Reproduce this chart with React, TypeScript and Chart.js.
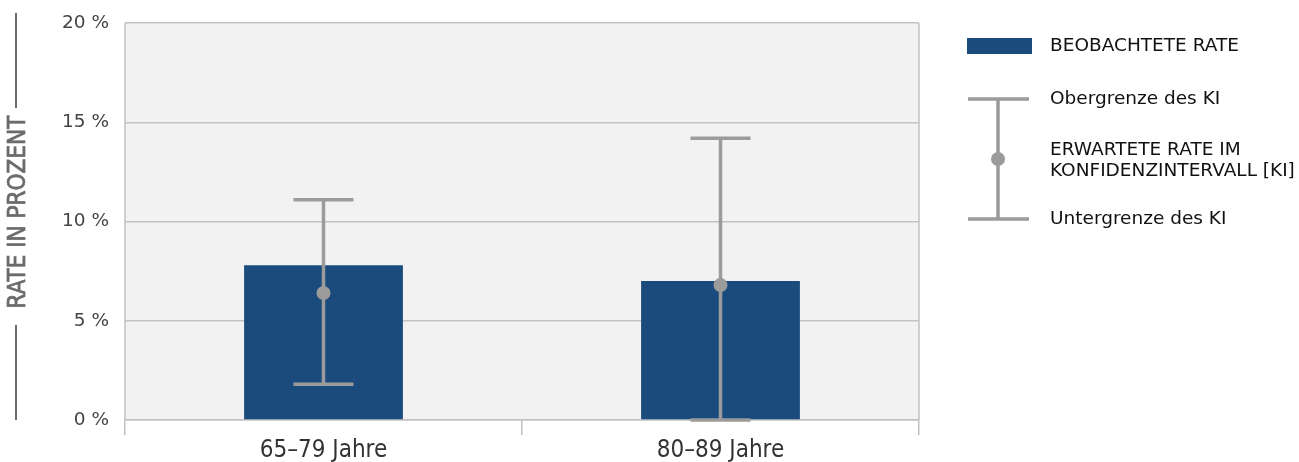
import React, { useEffect, useRef } from "react";
import { Chart, registerables } from "chart.js";

Chart.register(...registerables);

const categories = ["65–79 Jahre", "80–89 Jahre"];
const observedRate = [7.8, 7.0];
const expectedRate = [6.4, 6.8];
const upperCI = [11.1, 14.2];
const lowerCI = [1.8, 0.0];
const yTicks = [0, 5, 10, 15, 20];

const BAR_COLOR = "#1b4b7c";
const ERR_COLOR = "#9b9b9b";
const GRID_COLOR = "#c2c2c2";
const PLOT_BG = "#f2f2f2";
const LABEL_FONT = "'DejaVu Sans', sans-serif";
const COND_FONT = "'Liberation Sans Narrow', 'DejaVu Sans Condensed', sans-serif";

const plotPlugin = {
  id: "plotDecor",
  beforeDraw(chart: any) {
    const { ctx, chartArea } = chart;
    ctx.save();
    ctx.fillStyle = PLOT_BG;
    ctx.fillRect(chartArea.left, chartArea.top, chartArea.right - chartArea.left, chartArea.bottom - chartArea.top);
    ctx.restore();
  },
  afterDatasetsDraw(chart: any) {
    const { ctx, chartArea } = chart;
    const xs = chart.scales.x;
    const ys = chart.scales.y;
    ctx.save();
    ctx.strokeStyle = GRID_COLOR;
    ctx.lineWidth = 1.5;
    ctx.beginPath();
    ctx.moveTo(chartArea.left, chartArea.top);
    ctx.lineTo(chartArea.left, chartArea.bottom);
    ctx.moveTo(chartArea.right, chartArea.top);
    ctx.lineTo(chartArea.right, chartArea.bottom);
    ctx.stroke();

    ctx.strokeStyle = ERR_COLOR;
    ctx.fillStyle = ERR_COLOR;
    ctx.lineWidth = 3.5;
    categories.forEach((_, i) => {
      const x = xs.getPixelForValue(i);
      const yu = ys.getPixelForValue(upperCI[i]);
      const yl = ys.getPixelForValue(lowerCI[i]);
      const ym = ys.getPixelForValue(expectedRate[i]);
      ctx.beginPath();
      ctx.moveTo(x, yu);
      ctx.lineTo(x, yl);
      ctx.moveTo(x - 30, yu);
      ctx.lineTo(x + 30, yu);
      ctx.moveTo(x - 30, yl);
      ctx.lineTo(x + 30, yl);
      ctx.stroke();
      ctx.beginPath();
      ctx.arc(x, ym, 7, 0, Math.PI * 2);
      ctx.fill();
    });
    ctx.restore();
  },
  afterDraw(chart: any) {
    const { ctx } = chart;
    ctx.save();
    ctx.strokeStyle = "#6b6b6b";
    ctx.lineWidth = 2;
    ctx.beginPath();
    ctx.moveTo(16, 13);
    ctx.lineTo(16, 108);
    ctx.moveTo(16, 325);
    ctx.lineTo(16, 420);
    ctx.stroke();
    ctx.translate(19, 212);
    ctx.rotate(-Math.PI / 2);
    ctx.fillStyle = "#6b6b6b";
    ctx.strokeStyle = "#6b6b6b";
    ctx.lineWidth = 0.7;
    ctx.font = `24px ${COND_FONT}`;
    ctx.textAlign = "center";
    ctx.textBaseline = "middle";
    ctx.fillText("RATE IN PROZENT", 0, 0);
    ctx.strokeText("RATE IN PROZENT", 0, 0);
    ctx.restore();

    ctx.save();
    ctx.fillStyle = BAR_COLOR;
    ctx.fillRect(967, 38, 65, 16);
    ctx.strokeStyle = ERR_COLOR;
    ctx.fillStyle = ERR_COLOR;
    ctx.lineWidth = 3.5;
    ctx.beginPath();
    ctx.moveTo(998, 99);
    ctx.lineTo(998, 219);
    ctx.moveTo(968, 99);
    ctx.lineTo(1029, 99);
    ctx.moveTo(968, 219);
    ctx.lineTo(1029, 219);
    ctx.stroke();
    ctx.beginPath();
    ctx.arc(998, 159, 7, 0, Math.PI * 2);
    ctx.fill();

    ctx.fillStyle = "#111111";
    ctx.font = `18.5px ${LABEL_FONT}`;
    ctx.textAlign = "left";
    ctx.textBaseline = "middle";
    ctx.fillText("BEOBACHTETE RATE", 1050, 46);
    ctx.fillText("Obergrenze des KI", 1050, 99);
    ctx.fillText("ERWARTETE RATE IM", 1050, 150);
    ctx.fillText("KONFIDENZINTERVALL [KI]", 1050, 171);
    ctx.fillText("Untergrenze des KI", 1050, 219);
    ctx.restore();
  },
};

export default function App() {
  const canvasRef = useRef<HTMLCanvasElement | null>(null);

  useEffect(() => {
    if (!canvasRef.current) return;
    const chart = new Chart(canvasRef.current, {
      type: "bar",
      data: {
        labels: categories,
        datasets: [
          {
            label: "BEOBACHTETE RATE",
            data: observedRate,
            backgroundColor: BAR_COLOR,
            barPercentage: 0.4,
            categoryPercentage: 1,
          },
        ],
      },
      options: {
        animation: false,
        responsive: false,
        maintainAspectRatio: false,
        layout: { padding: { top: 23, right: 380, left: 0, bottom: 0 } },
        plugins: { legend: { display: false }, tooltip: { enabled: false } },
        scales: {
          x: {
            offset: true,
            grid: {
              offset: true,
              drawOnChartArea: false,
              drawTicks: true,
              tickLength: 15,
              color: GRID_COLOR,
              lineWidth: 1.5,
            },
            border: { color: GRID_COLOR, width: 1.5 },
            ticks: {
              color: "#333333",
              font: { family: COND_FONT, size: 24 },
              padding: 1,
            },
            afterFit(scale: any) {
              scale.height = 42;
              scale.paddingLeft = 0;
              scale.paddingRight = 0;
            },
          },
          y: {
            min: 0,
            max: 20,
            afterBuildTicks(scale: any) {
              scale.ticks = yTicks.map((v) => ({ value: v }));
            },
            grid: { color: GRID_COLOR, lineWidth: 1.5, drawTicks: false },
            border: { display: false },
            ticks: {
              color: "#444444",
              font: { family: LABEL_FONT, size: 18.5 },
              padding: 16,
              callback: (v: any) => `${v} %`,
            },
            afterFit(scale: any) {
              scale.width = 125;
              scale.paddingTop = 0;
              scale.paddingBottom = 0;
            },
          },
        },
      },
      plugins: [plotPlugin],
    });
    return () => chart.destroy();
  }, []);

  return (
    <div style={{ position: "fixed", left: 0, top: 0, width: 1299, height: 462, background: "#ffffff" }}>
      <canvas ref={canvasRef} width={1299} height={462} style={{ width: 1299, height: 462, display: "block" }} />
    </div>
  );
}
